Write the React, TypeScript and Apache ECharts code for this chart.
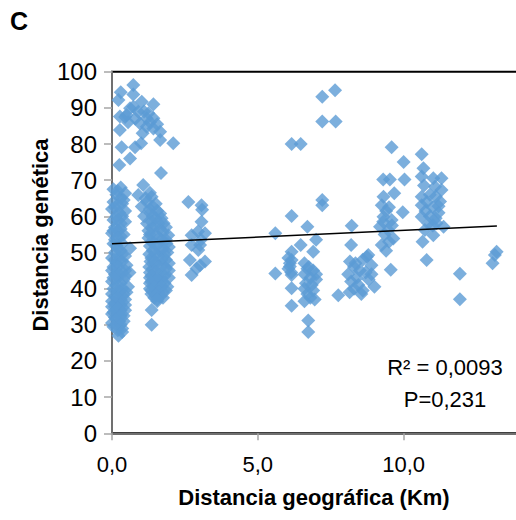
import React, { useEffect, useRef } from "react";
import * as echarts from "echarts";

// Distancia geográfica (Km), Distancia genética
const clusterAUpper: [number, number][] = [
  [0.73, 96.3], [0.3, 94.3], [0.73, 93.7], [0.22, 92.2], [1.02, 91.7], [1.42, 91],
  [0.62, 89.9], [0.73, 90.3], [0.9, 88.9], [1.19, 87.1], [1.42, 87.1], [0.27, 87.6],
  [0.45, 87.5], [0.55, 86], [0.8, 87], [1.1, 89], [1.3, 86], [0.96, 85.7], [1.19, 84.8],
  [1.42, 84.3], [1.05, 83], [0.27, 83.9], [1.65, 83.4], [1.65, 81.1], [2.1, 80.2],
  [0.33, 79.1], [0.79, 79.1], [1.0, 80.2], [0.62, 76], [0.25, 74.2], [1.68, 72],
  [0.5, 88], [1.25, 88.5], [1.55, 85.5],
];
const clusterA: [number, number][] = [
  [0.05, 67.5], [0.15, 66], [0.45, 66.4], [0.3, 65], [0.05, 64], [0.35, 63.5], [0.1, 62.5],
  [0.0, 62], [0.25, 61], [0.15, 60], [0.05, 59], [0.3, 58], [0.1, 57], [0.2, 56], [0.0, 55.3],
  [0.3, 54.5], [0.1, 53.5], [0.05, 52.4], [0.62, 51.2], [0.2, 51], [0.1, 50], [0.35, 49.5],
  [0.0, 48.5], [0.25, 48], [0.15, 47], [0.5, 46.5], [0.05, 46], [0.3, 45], [0.6, 44.5],
  [0.1, 44], [0.2, 43], [0.4, 42.5], [0.0, 42], [0.3, 41.5], [0.15, 41], [0.55, 40.5],
  [0.05, 40], [0.25, 39], [0.4, 38.5], [0.1, 38], [0.3, 37], [0.0, 36.5], [0.2, 36],
  [0.45, 35.5], [0.1, 35], [0.3, 34], [0.05, 33.5], [0.2, 33], [0.4, 32.5], [0.1, 32],
  [0.25, 31], [0.0, 30.5], [0.15, 30], [0.35, 29], [0.22, 27],
  [0.3, 68], [0.2, 67], [0.4, 64.5], [0.2, 63], [0.45, 61.5], [0.35, 60], [0.2, 59],
  [0.45, 58.5], [0.3, 56.5], [0.05, 56], [0.4, 55], [0.2, 54], [0.35, 52.5], [0.15, 52],
  [0.3, 50.5], [0.45, 49], [0.1, 48], [0.35, 47.5], [0.2, 46], [0.45, 45], [0.0, 45],
  [0.25, 44], [0.45, 43.5], [0.05, 43], [0.35, 40], [0.2, 39.5], [0.5, 39], [0.0, 38.5],
  [0.2, 37.5], [0.45, 37], [0.1, 36], [0.3, 35.5], [0.0, 35], [0.2, 34.5], [0.45, 34],
  [0.0, 33], [0.3, 32.5], [0.15, 31.5], [0.4, 31], [0.05, 29.5], [0.3, 30], [0.2, 28.5],
  [0.35, 28],
];
const clusterB: [number, number][] = [
  [1.07, 68.7], [0.9, 65.9], [1.36, 65.4], [1.02, 62.7], [1.4, 62.7], [1.2, 64], [1.65, 60.8],
  [1.3, 61], [1.1, 60], [1.5, 59.5], [1.77, 58.1], [1.2, 58], [1.45, 57.5], [1.65, 56.5],
  [1.25, 56], [1.5, 55], [1.93, 54.8], [1.25, 54], [1.7, 53.5], [1.35, 53], [1.87, 52.5],
  [1.55, 52], [1.3, 51.8], [1.75, 51], [1.4, 50.5], [1.9, 50], [1.28, 49.5], [1.6, 49],
  [1.35, 48.5], [1.85, 48], [1.32, 47.5], [1.5, 47], [1.75, 46.5], [1.28, 46], [1.4, 45.5],
  [1.95, 45], [1.3, 44.5], [1.6, 44], [1.8, 43.5], [1.3, 43], [1.45, 42.5], [1.7, 42],
  [1.3, 41.5], [1.55, 41], [1.9, 40.5], [1.3, 40], [1.5, 39.5], [1.75, 39], [1.35, 38.5],
  [1.6, 38], [1.45, 37.5], [1.65, 37.8], [1.55, 36.5], [1.36, 34.1], [1.36, 30],
  [1.3, 66.5], [1.15, 65], [1.5, 63.5], [1.3, 62], [1.55, 61.5], [1.4, 60], [1.7, 59.5],
  [1.35, 58.5], [1.6, 58], [1.85, 57], [1.4, 56.5], [1.75, 55.5], [1.3, 55], [1.6, 54],
  [1.85, 53.5], [1.45, 52.5], [1.65, 50.5], [1.95, 51.5], [1.5, 49.5], [1.8, 49.5],
  [1.7, 48], [1.45, 47.5], [1.95, 47], [1.6, 46], [1.85, 45.5], [1.5, 44.5], [1.35, 43.5],
  [1.7, 43], [1.95, 43], [1.55, 42.5], [1.35, 42], [1.8, 41.5], [1.45, 40.5], [1.7, 40.5],
  [1.35, 39.5], [1.6, 39], [1.85, 39.5], [1.5, 38.2], [1.75, 37.5], [1.55, 37],
];
const clusterC: [number, number][] = [
  [2.62, 64], [3.07, 63.1], [3.09, 61.8], [3.07, 58.5], [2.95, 55.8], [2.73, 54.8],
  [3.19, 55.3], [2.73, 52.1], [3.02, 52.1], [2.67, 47.9], [3.19, 47.5], [2.9, 45.6],
  [2.73, 43.8], [3.02, 46.5], [2.96, 50.7], [3.05, 53.5],
];
const clusterD: [number, number][] = [
  [7.65, 94.9], [7.21, 93.1], [7.21, 86.2], [7.67, 86.2], [6.16, 80], [6.47, 80],
  [7.21, 64.5], [7.21, 63.1], [6.16, 60.1], [5.6, 55.3], [6.7, 57.1], [7.0, 53.5],
  [6.47, 52.1], [6.9, 50.2], [6.16, 50.2], [6.16, 47.9], [6.1, 46.1], [5.6, 44.2],
  [6.16, 43.8], [6.16, 40.1], [6.16, 35.3], [6.73, 31.2], [6.73, 28], [7.76, 38.2],
  [6.05, 48.5], [6.1, 47], [6.05, 45.5], [6.15, 44.5],
  [6.6, 47], [6.75, 46], [6.9, 45], [6.6, 44], [6.8, 43], [7.0, 42.5], [6.65, 41.5],
  [6.85, 41], [6.6, 40], [6.9, 39.5], [6.7, 38.5], [6.8, 37.5], [6.95, 37], [6.6, 36.5],
  [6.7, 45.5], [7.0, 44],
];
const clusterE: [number, number][] = [
  [8.22, 57.4], [8.2, 52.1], [8.79, 49.3], [8.16, 47.5], [8.74, 48.8], [8.3, 46], [8.5, 45],
  [8.1, 44], [8.4, 43], [8.7, 44.5], [8.9, 46.5], [8.2, 42], [8.45, 41], [8.8, 42.5],
  [8.3, 40], [8.6, 39.5], [8.15, 39], [8.55, 38.5], [9.0, 40.5], [8.35, 47], [8.6, 48],
  [8.9, 44],
];
const clusterF: [number, number][] = [
  [9.59, 79.1], [10.0, 75], [9.3, 70.2], [9.53, 70.2], [10.03, 70.2], [9.68, 66.4],
  [9.31, 65.4], [9.25, 63.1], [9.97, 61.1], [9.31, 59.9], [9.59, 59], [9.19, 57.1],
  [9.47, 56.2], [9.65, 53.9], [9.25, 52.1], [9.56, 45.2], [9.4, 61.5], [9.5, 62.5],
  [9.35, 55], [9.5, 53], [9.4, 50.5], [9.3, 58.5], [9.6, 57.5],
];
const clusterG: [number, number][] = [
  [10.62, 77.2], [10.68, 73.3], [10.62, 71], [11.02, 70.5], [11.3, 70.5], [11.08, 68.2],
  [11.3, 67.3], [10.62, 65.4], [10.62, 63.1], [11.25, 64.1], [10.62, 59.9], [11.13, 58.1],
  [11.37, 57.1], [10.73, 56.2], [11.02, 54.8], [10.65, 53], [10.79, 47.9], [10.9, 66],
  [11.1, 65.5], [10.8, 64], [11.0, 62.5], [10.75, 61.5], [11.2, 61], [10.9, 60],
  [11.1, 59.5], [10.85, 58], [11.0, 57.5], [10.7, 68.5], [11.2, 62.8],
];
const clusterH: [number, number][] = [
  [11.93, 44.1], [11.93, 37.1], [13.19, 50.2], [13.13, 49.3], [13.05, 47],
];

const trendX = [0, 13.2];
const trendY = [52.4, 57.3];

const xTitle = "Distancia geográfica (Km)";
const yTitle = "Distancia genética";
const panelLabel = "C";
const r2Text = "R² = 0,0093";
const pText = "P=0,231";

const FONT = '"Liberation Sans", Arial, sans-serif';

export default function App() {
  const ref = useRef<HTMLDivElement>(null);
  useEffect(() => {
    if (!ref.current) return;
    const chart = echarts.init(ref.current, undefined, { renderer: "svg" });
    const points = [
      ...clusterAUpper, ...clusterA, ...clusterB, ...clusterC, ...clusterD,
      ...clusterE, ...clusterF, ...clusterG, ...clusterH,
    ];
    chart.setOption({
      animation: false,
      grid: {
        left: 112, top: 71.7, right: -33.4, bottom: 86.7,
        outerBoundsMode: "none",
        containLabel: false,
        show: true, borderColor: "#000", borderWidth: 2,
      },
      xAxis: {
        type: "value", min: 0, max: 15, interval: 5,
        splitLine: { show: false },
        axisLine: { show: true, onZero: false, lineStyle: { color: "#707070", width: 2 } },
        axisTick: { show: true, length: 7, lineStyle: { color: "#a6a6a6", width: 1.5 } },
        axisLabel: {
          margin: 20, color: "#000", fontSize: 22, fontFamily: FONT,
          showMaxLabel: false,
          formatter: (v: number) => (v >= 15 ? "" : v.toFixed(1).replace(".", ",")),
        },
      },
      yAxis: {
        type: "value", min: 0, max: 100, interval: 10,
        splitLine: { show: false },
        axisLine: { show: true, lineStyle: { color: "#707070", width: 2 } },
        axisTick: { show: true, length: 8, lineStyle: { color: "#a6a6a6", width: 1.5 } },
        axisLabel: { margin: 15, color: "#000", fontSize: 24, fontFamily: FONT },
      },
      series: [
        {
          type: "scatter",
          data: points,
          symbol: "diamond",
          symbolSize: 14,
          itemStyle: { color: "#5B9BD5" },
        },
        {
          type: "line",
          data: trendX.map((x, i) => [x, trendY[i]]),
          symbol: "none",
          lineStyle: { color: "#000", width: 1.5 },
          z: 5,
        },
      ],
      graphic: [
        {
          type: "text", x: 19, y: 21,
          style: { text: panelLabel, font: `bold 25px ${FONT}`, fill: "#000", textAlign: "center", textVerticalAlign: "middle" },
        },
        {
          type: "text", x: 40, y: 235, rotation: Math.PI / 2,
          style: { text: yTitle, font: `bold 22px ${FONT}`, fill: "#000", textAlign: "center", textVerticalAlign: "middle" },
        },
        {
          type: "text", x: 314, y: 497,
          style: { text: xTitle, font: `bold 22px ${FONT}`, fill: "#000", textAlign: "center", textVerticalAlign: "middle" },
        },
        {
          type: "text", x: 445, y: 367,
          style: { text: r2Text, font: `22px ${FONT}`, fill: "#000", textAlign: "center", textVerticalAlign: "middle" },
        },
        {
          type: "text", x: 445, y: 399,
          style: { text: pText, font: `22px ${FONT}`, fill: "#000", textAlign: "center", textVerticalAlign: "middle" },
        },
      ],
    });
    return () => chart.dispose();
  }, []);
  return (
    <div
      ref={ref}
      style={{ position: "fixed", left: 0, top: 0, width: 516, height: 520, background: "#fff" }}
    />
  );
}
